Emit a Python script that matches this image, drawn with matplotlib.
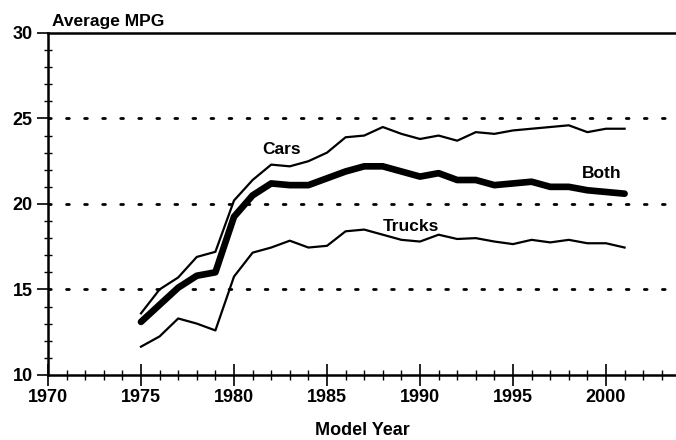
import matplotlib.pyplot as plt
from matplotlib.ticker import MultipleLocator

plt.rcParams['font.family'] = ['Liberation Sans', 'DejaVu Sans']
plt.rcParams['font.weight'] = 'bold'

YEARS = list(range(1975, 2002))
CARS = [13.6, 15.0, 15.7, 16.9, 17.2, 20.2, 21.4, 22.3, 22.2, 22.5, 23.0, 23.9, 24.0,
        24.5, 24.1, 23.8, 24.0, 23.7, 24.2, 24.1, 24.3, 24.4, 24.5, 24.6, 24.2, 24.4, 24.4]
BOTH = [13.1, 14.1, 15.1, 15.8, 16.0, 19.25, 20.5, 21.2, 21.1, 21.1, 21.5, 21.9, 22.2,
        22.2, 21.9, 21.6, 21.8, 21.4, 21.4, 21.1, 21.2, 21.3, 21.0, 21.0, 20.8, 20.7, 20.6]
TRUCKS = [11.65, 12.25, 13.3, 13.0, 12.6, 15.75, 17.15, 17.45, 17.85, 17.45, 17.55, 18.4, 18.5,
          18.2, 17.9, 17.8, 18.2, 17.95, 18.0, 17.8, 17.65, 17.9, 17.75, 17.9, 17.7, 17.7, 17.45]

GRID_LEVELS = [15, 20, 25]


def main() -> None:
  fig = plt.figure(figsize=(6.76, 4.4), dpi=100, facecolor='w')
  ax = fig.add_axes([0.071, 0.148, 0.93, 0.777])

  for level in GRID_LEVELS:
    ax.axhline(level, color='black', linestyle=(0, (1, 5.5)), linewidth=2.0,
               dash_capstyle='round', zorder=1)

  ax.plot(YEARS, CARS, color='black', linewidth=1.6, zorder=3)
  ax.plot(YEARS, TRUCKS, color='black', linewidth=1.6, zorder=3)
  ax.plot(YEARS, BOTH, color='black', linewidth=4.8, solid_capstyle='round', zorder=4)

  ax.text(1981.5, 22.9, 'Cars', fontsize=12.5, fontweight='bold', va='baseline')
  ax.text(1998.7, 21.5, 'Both', fontsize=12.5, fontweight='bold', va='baseline')
  ax.text(1988.0, 18.42, 'Trucks', fontsize=12.5, fontweight='bold', va='baseline')

  ax.set_xlim(1970, 2003.8)
  ax.set_ylim(10, 30)
  ax.xaxis.set_major_locator(MultipleLocator(5))
  ax.xaxis.set_minor_locator(MultipleLocator(1))
  ax.yaxis.set_major_locator(MultipleLocator(5))
  ax.yaxis.set_minor_locator(MultipleLocator(1))
  ax.tick_params(axis='x', which='major', direction='inout', length=16, width=1.2,
                 labelsize=13, pad=2)
  ax.tick_params(axis='x', which='minor', direction='inout', length=7, width=1)
  ax.tick_params(axis='y', which='major', direction='out', length=8, width=1.2,
                 labelsize=13, pad=3)
  ax.tick_params(axis='y', which='minor', direction='inout', length=6, width=1)

  for label in ax.get_xticklabels() + ax.get_yticklabels():
    label.set_fontweight('bold')

  ax.spines['right'].set_visible(False)
  for side in ['left', 'bottom', 'top']:
    ax.spines[side].set_linewidth(1.8)

  ax.set_xlabel('Model Year', fontsize=13, fontweight='bold', labelpad=12)
  fig.text(0.077, 0.94, 'Average MPG', fontsize=12.5, fontweight='bold')

  fig.savefig('out.png', dpi=100)


if __name__ == '__main__':
  main()
